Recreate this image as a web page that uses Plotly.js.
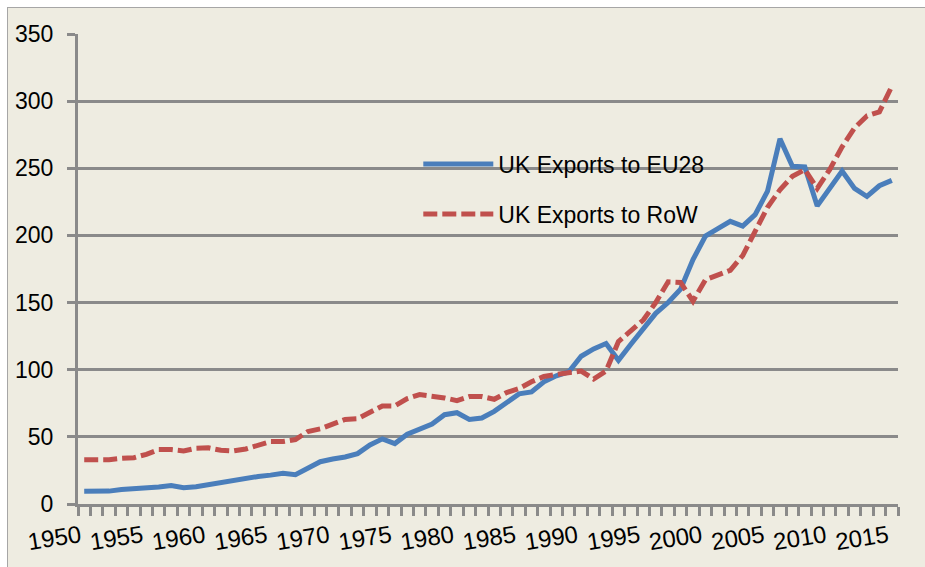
<!DOCTYPE html>
<html>
<head>
<meta charset="utf-8">
<script src="https://cdn.plot.ly/plotly-3.0.1.min.js"></script>
<style>
  html, body { margin: 0; padding: 0; background: #ffffff; width: 925px; height: 567px; overflow: hidden; }
  #frame { position: absolute; left: 7px; top: 7px; width: 918px; height: 560px;
           border-left: 1px solid #a6a6a6; border-top: 1px solid #a6a6a6; background: #EEECE1; }
  #chart { width: 917px; height: 559px; }
</style>
</head>
<body>
<div id="frame"><div id="chart"></div></div>
<script>
// Years 1950-2015
const years = [];
for (let y = 1950; y <= 2015; y++) years.push(y);

// UK exports to EU28
const exportsEU28 = [
  9.5, 9.5, 9.6, 10.8, 11.3, 12.1, 12.6, 13.8, 12.1, 12.8,   // 1950-1959
  14.3, 15.8, 17.8, 19.5, 20.5, 21.5, 22.8, 21.8, 27, 31.5,   // 1960-1969
  33.5, 35, 37.5, 44, 48.5, 45, 52, 56, 59.5, 66.5,           // 1970-1979
  68, 63, 64, 69, 75.5, 82, 83.5, 91, 95.5, 98.5,             // 1980-1989
  110, 115.5, 119.5, 107, 119, 131, 142, 150, 160, 182,       // 1990-1999
  199.5, 205, 210.5, 207, 215.5, 233, 272, 251.5, 251, 222,   // 2000-2009
  235, 248, 235, 229, 237, 241                                // 2010-2015
];

// UK exports to Rest of World
const exportsRoW = [
  33, 33, 33, 34, 34.5, 37, 40.5, 40.5, 39.5, 41.5,           // 1950-1959
  41.8, 40, 39.5, 41, 44, 46.5, 46.5, 48, 54, 56,             // 1960-1969
  59.5, 63, 63.5, 68.5, 73, 73, 78.5, 81.5, 80.5, 79,         // 1970-1979
  77, 80, 80, 78, 83, 86, 91, 95, 96.5, 98,                   // 1980-1989
  99, 93, 99, 121, 129, 137, 150, 165.5, 165, 151,            // 1990-1999
  167, 171, 174, 185, 204, 221, 234, 244, 249, 235,           // 2000-2009
  249, 266, 280, 289, 292, 311                                // 2010-2015
];

const seriesNames = ['UK Exports to EU28', 'UK Exports to RoW'];
const xTickLabels = [1950, 1955, 1960, 1965, 1970, 1975, 1980, 1985, 1990, 1995, 2000, 2005, 2010, 2015];
const yTickVals = [0, 50, 100, 150, 200, 250, 300, 350];

// category boundaries (tick marks sit between years, as in a category axis)
const boundaries = years.map(y => y - 0.5).concat([years[years.length - 1] + 0.5]);
const xRange = [boundaries[0], boundaries[boundaries.length - 1]];

const gridColor = '#8a8a8a';
const fontFam = '"Liberation Sans", Arial, sans-serif';

const traces = [
  {
    x: years, y: exportsEU28, name: seriesNames[0], type: 'scatter', mode: 'lines',
    xaxis: 'x', yaxis: 'y',
    line: { color: '#4A7EBB', width: 5 }, legendgroup: 'a'
  },
  {
    x: years, y: exportsRoW, name: seriesNames[1], type: 'scatter', mode: 'lines',
    xaxis: 'x2', yaxis: 'y',
    line: { color: '#C0504D', width: 5, dash: '14px,5px' }, legendgroup: 'b'
  }
];

const layout = {
  width: 917, height: 559,
  margin: { l: 70, r: 27, t: 26, b: 63 },
  paper_bgcolor: '#EEECE1',
  plot_bgcolor: '#EEECE1',
  font: { family: fontFam, size: 23, color: '#000000' },
  showlegend: true,
  legend: {
    x: 0.415, y: 0.769, xanchor: 'left', yanchor: 'top',
    bgcolor: 'rgba(0,0,0,0)', font: { family: fontFam, size: 23 },
    traceorder: 'grouped', tracegroupgap: 17, itemwidth: 70
  },
  // axis carrying the yearly tick marks (between categories)
  xaxis: {
    range: xRange,
    tickmode: 'array', tickvals: boundaries, ticktext: boundaries.map(() => ''),
    ticks: 'outside', ticklen: 9, tickwidth: 3, tickcolor: gridColor,
    showgrid: false, zeroline: false,
    showline: true, linecolor: gridColor, linewidth: 3
  },
  // overlaid axis carrying the rotated year labels
  xaxis2: {
    overlaying: 'x', anchor: 'y', side: 'bottom',
    range: xRange,
    tickmode: 'array', tickvals: xTickLabels,
    tickangle: -9,
    ticks: '', showgrid: false, zeroline: false, showline: false,
    tickfont: { family: fontFam, size: 24 },
    ticklabelstandoff: 13,
    ticklabelshift: -4
  },
  yaxis: {
    range: [0, 350],
    tickmode: 'array', tickvals: yTickVals,
    ticks: 'outside', ticklen: 8, tickwidth: 3, tickcolor: gridColor,
    showgrid: true, gridcolor: gridColor, gridwidth: 3,
    zeroline: false,
    showline: true, linecolor: gridColor, linewidth: 3,
    tickfont: { family: fontFam, size: 23 },
    ticklabelstandoff: 9
  }
};

Plotly.newPlot('chart', traces, layout, { displayModeBar: false, staticPlot: true });
</script>
</body>
</html>
